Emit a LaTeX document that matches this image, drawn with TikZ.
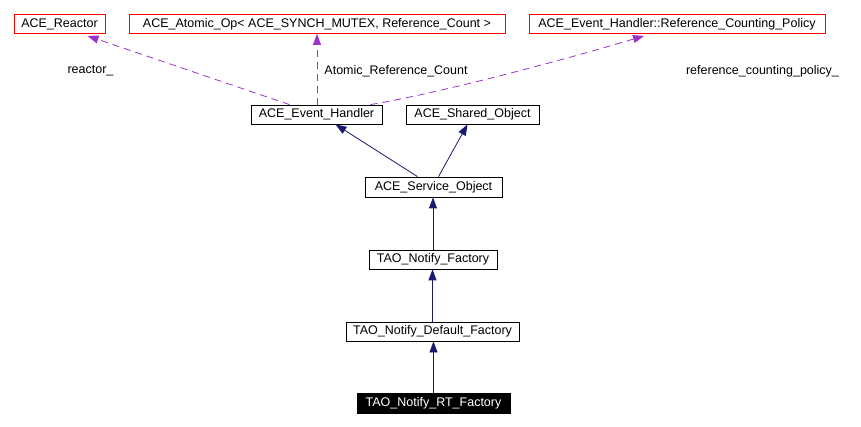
\documentclass[tikz,border=0pt]{standalone}
\usepackage{fontspec}
\setmainfont{Liberation Sans}
\usepackage{tikz}
\usetikzlibrary{arrows.meta,calc,positioning}
\definecolor{usecol}{HTML}{9A32CD}
\definecolor{inhcol}{HTML}{191970}

\begin{document}
\begin{tikzpicture}[x=1pt,y=-1pt,
  box/.style={draw,rectangle,inner sep=0pt,line width=0.8pt,minimum height=19pt,font=\fontsize{12.5}{15}\selectfont},
  ext/.style={box,draw=red},
  lbl/.style={font=\fontsize{12.5}{15}\selectfont,inner sep=0pt},
  inh/.style={draw=inhcol,line width=0.8pt,-{Triangle[length=11pt,width=8pt]},color=inhcol},
  use/.style={draw=usecol,line width=0.8pt,dash pattern=on 7pt off 5pt,-{Triangle[length=11pt,width=8pt]},color=usecol}]
\useasboundingbox (0,0) rectangle (861,427);
\node[ext,minimum width=91pt] (reactor) at (59.5,24) {ACE\_Reactor};
\node[ext,minimum width=376pt] (atomic) at (317,24) {ACE\_Atomic\_Op< ACE\_SYNCH\_MUTEX, Reference\_Count >};
\node[ext,minimum width=296pt] (policy) at (677,24) {ACE\_Event\_Handler::Reference\_Counting\_Policy};
\node[box,minimum width=131pt] (evh) at (316.5,114.5) {ACE\_Event\_Handler};
\node[box,minimum width=133pt] (shared) at (472.5,114.5) {ACE\_Shared\_Object};
\node[box,minimum width=137pt,minimum height=20pt] (service) at (433.5,187) {ACE\_Service\_Object};
\node[box,minimum width=128pt] (notify) at (433,259.5) {TAO\_Notify\_Factory};
\node[box,minimum width=173pt] (default) at (432.5,331.5) {TAO\_Notify\_Default\_Factory};
\node[box,fill=black,text=white,minimum width=153pt,minimum height=20pt] (rt) at (433.5,403) {TAO\_Notify\_RT\_Factory};
\node[lbl] (lreactor) at (90.5,71) {reactor\_};
\node[lbl] (latomic) at (396,71) {Atomic\_Reference\_Count};
\node[lbl] (lpolicy) at (762.5,71) {reference\_counting\_policy\_};
\draw[use] ([xshift=-27pt]evh.north) -- ([xshift=28pt,yshift=-2pt]reactor.south);
\draw[use] ([xshift=0.5pt]evh.north) -- (atomic.south);
\draw[use] ([xshift=54pt]evh.north) .. controls ([xshift=130pt,yshift=13pt]evh.north) and ([xshift=-110pt,yshift=-25pt]policy.south) .. ([xshift=-33pt,yshift=-2pt]policy.south);
\draw[inh] ([xshift=-16pt]service.north) -- ([xshift=19pt]evh.south);
\draw[inh] ([xshift=5pt]service.north) -- ([xshift=-5pt]shared.south);
\draw[inh] (notify.north) -- (notify.north |- service.south);
\draw[inh] (default.north) -- (default.north |- notify.south);
\draw[inh] (rt.north) -- (rt.north |- default.south);
\end{tikzpicture}
\end{document}
